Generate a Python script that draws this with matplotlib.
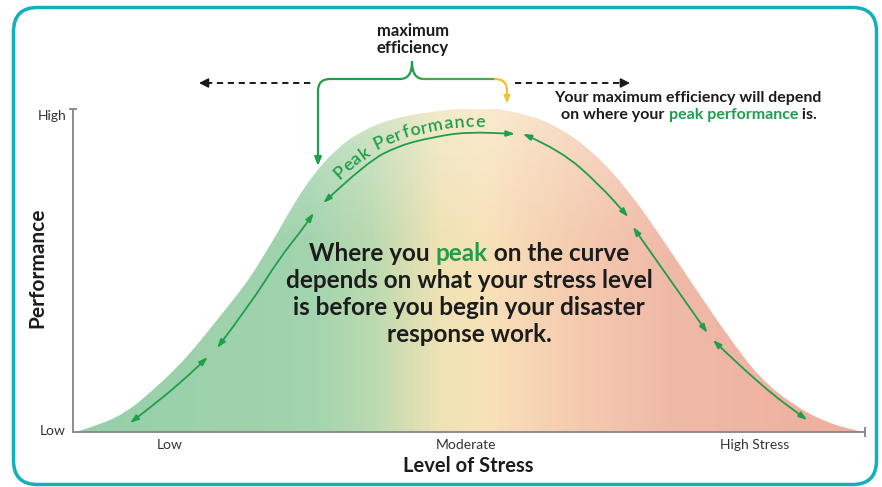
import numpy as np
import matplotlib
matplotlib.use("Agg")
import matplotlib.pyplot as plt
from matplotlib.colors import LinearSegmentedColormap
from matplotlib.patches import FancyArrowPatch, FancyBboxPatch, PathPatch
from matplotlib.path import Path
from matplotlib.collections import LineCollection
from matplotlib.transforms import ScaledTranslation

plt.rcParams["font.family"] = ["Lato", "DejaVu Sans"]

# performance curve (stress 0..10, performance 0..1)
stress = [0.03, 0.34, 0.68, 0.97, 1.31, 1.60, 1.94, 2.17, 2.36, 2.58, 2.78, 3.03,
          3.31, 3.62, 4.04, 4.67, 5.10, 5.30, 5.77, 6.15, 6.57, 7.00, 7.41, 7.83,
          8.26, 8.67, 9.09, 9.52, 9.97]
performance = [0.000, 0.022, 0.062, 0.121, 0.198, 0.279, 0.384, 0.455, 0.526, 0.616,
               0.703, 0.796, 0.873, 0.929, 0.972, 0.997, 1.003, 1.003, 0.981, 0.941,
               0.867, 0.752, 0.610, 0.455, 0.300, 0.167, 0.084, 0.028, 0.000]

# green arrows running just inside the curve
arrow_runs_x = [[0.72, 1.10, 1.48, 1.70],
                [1.82, 2.23, 2.61, 2.87, 3.04],
                [3.16, 3.71, 4.13, 4.55, 4.97, 5.58],
                [5.68, 6.15, 6.65, 7.01],
                [7.07, 7.54, 8.01],
                [8.08, 8.67, 9.27]]
arrow_runs_y = [[0.028, 0.099, 0.180, 0.232],
                [0.260, 0.393, 0.539, 0.619, 0.678],
                [0.709, 0.836, 0.888, 0.913, 0.929, 0.923],
                [0.923, 0.873, 0.765, 0.666],
                [0.635, 0.471, 0.307],
                [0.285, 0.146, 0.037]]

x_tick_pos = [1.22, 4.96, 8.61]
x_tick_labels = ["Low", "Moderate", "High Stress"]
y_tick_pos = [0.005, 0.98]
y_tick_labels = ["Low", "High"]

GREEN = "#1f9e4c"
TEXT = "#1c1c1c"
GRAY = "#8c8c8c"


def smooth_path(xs, ys):
    pts = np.column_stack([xs, ys])
    verts = [pts[0]]
    codes = [Path.MOVETO]
    for i in range(1, len(pts) - 1):
        verts += [pts[i], (pts[i] + pts[i + 1]) / 2]
        codes += [Path.CURVE3, Path.CURVE3]
    verts.append(pts[-1])
    codes.append(Path.LINETO)
    return Path(verts, codes)


fig = plt.figure(figsize=(8.82, 4.87), dpi=100)
ax = fig.add_axes([73 / 882, 55 / 487, 792 / 882, 323 / 487])
ax.set_xlim(0, 10)
ax.set_ylim(0, 1)
ax.patch.set_alpha(0)

# gradient fill under the curve
cmap = LinearSegmentedColormap.from_list("stress", [
    (0.00, "#96cfa8"), (0.30, "#a2d4ae"), (0.38, "#bcdab0"), (0.46, "#eee2b4"),
    (0.52, "#f8e2b9"), (0.62, "#f5ceb0"), (0.75, "#f0baa9"), (1.00, "#eeae9c")])
curve = smooth_path(stress, performance)
outline = Path(np.vstack([curve.vertices, [[stress[-1], 0], [stress[0], 0], [stress[0], 0]]]),
               list(curve.codes) + [Path.LINETO, Path.LINETO, Path.CLOSEPOLY])
clip = PathPatch(outline, facecolor="none", edgecolor="none")
ax.add_patch(clip)
grad = np.linspace(0, 1, 500).reshape(1, -1)
im = ax.imshow(grad, extent=(0, 10, 0, 1.05), aspect="auto", cmap=cmap,
               origin="lower", zorder=1)
im.set_clip_path(clip)
# lighter toward the top
vg = np.linspace(0, 1, 200).reshape(-1, 1)
light = np.zeros((200, 1, 4))
light[..., :3] = 1.0
light[..., 3] = np.clip((vg - 0.55) / 0.45, 0, 1) * 0.35
im2 = ax.imshow(light, extent=(0, 10, 0, 1.05), aspect="auto", origin="lower", zorder=1.1)
im2.set_clip_path(clip)

for rx, ry in zip(arrow_runs_x, arrow_runs_y):
    arr = FancyArrowPatch(path=smooth_path(rx, ry),
                          arrowstyle="<|-|>,head_length=0.5,head_width=0.17",
                          mutation_scale=10, color=GREEN, lw=1.3,
                          shrinkA=0, shrinkB=0, zorder=3)
    ax.add_patch(arr)

# axes
for side in ["top", "right"]:
    ax.spines[side].set_visible(False)
for side in ["left", "bottom"]:
    ax.spines[side].set_color(GRAY)
    ax.spines[side].set_linewidth(1.4)
ax.set_xticks(x_tick_pos, x_tick_labels, fontsize=10, color="#333333")
ax.set_yticks(y_tick_pos, y_tick_labels, fontsize=10, color="#333333")
ax.tick_params(length=0, pad=5)
ax.plot([0], [1], marker="_", ms=6, mew=1.4, color=GRAY, clip_on=False)
ax.plot([10], [0], marker="|", ms=7, mew=1.4, color=GRAY, clip_on=False)

# overlay in pixel coordinates for annotations
deco = fig.add_axes([0, 0, 1, 1], zorder=5)
deco.set_xlim(0, 882)
deco.set_ylim(487, 0)
deco.axis("off")
deco.patch.set_alpha(0)

deco.add_patch(FancyBboxPatch((13.5, 7.5), 863, 477, boxstyle="round,pad=0,rounding_size=24",
                              fill=False, edgecolor="#12afbd", lw=2.5))

renderer = fig.canvas.get_renderer()


def colored_line(x, y, parts, size, weight="bold"):
    texts = [deco.text(x, y, s, color=c, fontsize=size, fontweight=weight,
                       ha="left", va="baseline") for s, c in parts]
    widths = [t.get_window_extent(renderer).width for t in texts]
    off = -sum(widths) / 2
    for t, w in zip(texts, widths):
        t.set_transform(deco.transData + ScaledTranslation(off / fig.dpi, 0, fig.dpi_scale_trans))
        off += w


colored_line(469, 261, [("Where you ", TEXT), ("peak", GREEN), (" on the curve", TEXT)], 17.5)
colored_line(469, 288, [("depends on what your stress level", TEXT)], 17.5)
colored_line(469, 315, [("is before you begin your disaster", TEXT)], 17.5)
colored_line(469, 342, [("response work.", TEXT)], 17.5)

colored_line(688, 102, [("Your maximum efficiency will depend", TEXT)], 11.5)
colored_line(689, 119, [("on where your ", TEXT), ("peak performance", GREEN), (" is.", TEXT)], 11.5)
colored_line(413, 36, [("maximum", TEXT)], 12)
colored_line(413, 53, [("efficiency", TEXT)], 12)

deco.text(37, 268, "Performance", rotation=90, ha="center", va="center",
          fontsize=15, fontweight="bold", color=TEXT)
deco.text(468, 466, "Level of Stress", ha="center", va="center",
          fontsize=14.5, fontweight="bold", color=TEXT)

# brace over the peak
left_brace = Path([(412, 62), (412, 79), (400, 79), (330, 79), (318, 79), (318, 91), (318, 166)],
                  [Path.MOVETO, Path.CURVE3, Path.CURVE3, Path.LINETO, Path.CURVE3, Path.CURVE3,
                   Path.LINETO])
deco.add_patch(FancyArrowPatch(path=left_brace, arrowstyle="-|>,head_length=0.5,head_width=0.2",
                               mutation_scale=10, color=GREEN, lw=1.6, shrinkA=0, shrinkB=0))
right_brace = Path([(412, 62), (412, 79), (424, 79), (495, 79), (507, 79), (507, 91), (507, 97)],
                   [Path.MOVETO, Path.CURVE3, Path.CURVE3, Path.LINETO, Path.CURVE3, Path.CURVE3,
                    Path.LINETO])
pts = right_brace.to_polygons(closed_only=False)[0]
segs = np.stack([pts[:-1], pts[1:]], axis=1)
bcmap = LinearSegmentedColormap.from_list("brace", [(0, GREEN), (0.35, "#8cbf45"),
                                                    (0.55, "#f0c33a"), (1, "#f2c230")])
frac = (segs[:, 0, 0] - 412) / (507 - 412)
deco.add_collection(LineCollection(segs, colors=bcmap(np.clip(frac, 0, 1)), lw=1.6,
                                   capstyle="round"))
deco.annotate("", xy=(507, 103), xytext=(507, 96),
              arrowprops=dict(arrowstyle="-|>,head_length=0.45,head_width=0.2",
                              color="#f2c230", lw=1.2, shrinkA=0, shrinkB=0))

# dashed arrows
DARK = "#1a1a1a"
deco.plot([206, 312], [83, 83], ls=(0, (3.2, 2.4)), color=DARK, lw=1.4)
deco.annotate("", xy=(199, 83), xytext=(208, 83),
              arrowprops=dict(arrowstyle="-|>,head_length=0.55,head_width=0.28",
                              color=DARK, lw=1.2, shrinkA=0, shrinkB=0))
deco.plot([515, 622], [83, 83], ls=(0, (3.2, 2.4)), color=DARK, lw=1.4)
deco.annotate("", xy=(630, 83), xytext=(621, 83),
              arrowprops=dict(arrowstyle="-|>,head_length=0.55,head_width=0.28",
                              color=DARK, lw=1.2, shrinkA=0, shrinkB=0))

# "Peak Performance" set along the top arrow
arc = ax.transData.transform(np.column_stack([arrow_runs_x[2], arrow_runs_y[2]]))
dense = smooth_path(arc[:, 0], arc[:, 1]).to_polygons(closed_only=False)[0]
d = np.diff(dense, axis=0)
seglen = np.hypot(d[:, 0], d[:, 1])
cum = np.concatenate([[0], np.cumsum(seglen)])
nrm = np.column_stack([-d[:, 1], d[:, 0]]) / seglen[:, None]
label = "Peak Performance"
kw = dict(fontsize=13, fontweight="semibold", color=GREEN)
widths = []
for ch in label:
    t = fig.text(0, 0, ch if ch != " " else "a", **kw)
    w = t.get_window_extent(renderer).width
    widths.append(w * (0.5 if ch == " " else 1.0))
    t.remove()
spacing = 0.6
s = 27.0
inv = fig.transFigure.inverted()
for ch, w in zip(label, widths):
    sc = s + w / 2
    i = min(np.searchsorted(cum, sc) - 1, len(seglen) - 1)
    i = max(i, 0)
    f = (sc - cum[i]) / seglen[i]
    p = dense[i] + f * d[i] + nrm[i] * 6
    ang = np.degrees(np.arctan2(d[i, 1], d[i, 0]))
    fx, fy = inv.transform(p)
    fig.text(fx, fy, ch, rotation=ang, rotation_mode="anchor", ha="center", va="baseline",
             zorder=6, **kw)
    s += w + spacing

fig.savefig("out.png", dpi=100)
